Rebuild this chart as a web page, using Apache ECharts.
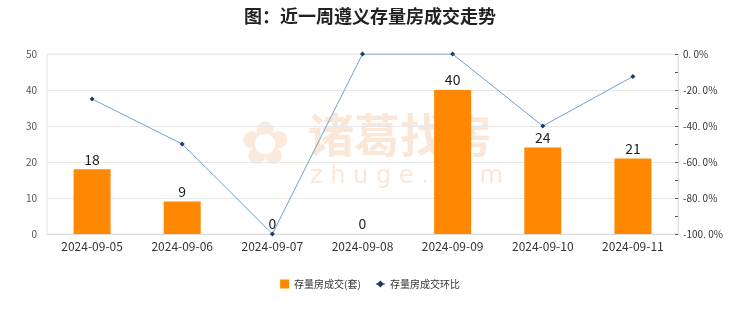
<!DOCTYPE html>
<html><head><meta charset="utf-8">
<script src="https://cdn.jsdelivr.net/npm/echarts@6/dist/echarts.min.js"></script>
<style>html,body{margin:0;padding:0;background:#fff}#c{width:740px;height:312px}</style>
</head><body><div id="c"></div>
<script>
const categories = ['2024-09-05','2024-09-06','2024-09-07','2024-09-08','2024-09-09','2024-09-10','2024-09-11'];
const volume = [18, 9, 0, 0, 40, 24, 21];
const ratio = [-25, -50, -100, 0, 0, -40, -12.5];
const leftTicks = {min: 0, max: 50, interval: 10};
const rightTicks = {min: -100, max: 0, interval: 20};

const chart = echarts.init(document.getElementById('c'));
const font = '"Noto Sans CJK SC", "Noto Sans", sans-serif';
chart.setOption({
  animation: false,
  backgroundColor: '#ffffff',
  textStyle: {fontFamily: font},
  title: {text: '图：近一周遵义存量房成交走势', left: 'center', top: 2,
    textStyle: {fontSize: 18, fontWeight: 'bold', color: '#222', fontFamily: font}},
  graphic: [
    {type: 'text', left: 308, top: 112, z: 0, style: {text: '诸葛找房', font: 'bold 46px "Noto Sans CJK SC"', fill: 'rgba(240,170,110,0.28)'}},
    {type: 'text', left: 310, top: 165, z: 0, style: {text: 'z h u g e . c o m', font: '24px "DejaVu Sans"', fill: 'rgba(240,170,110,0.28)'}},
    {type: 'text', left: 240, top: 118, z: 0, style: {text: '✿', font: '60px "DejaVu Sans"', fill: 'rgba(240,170,110,0.25)'}}
  ],
  legend: {bottom: 18, left: 'center', itemWidth: 9, itemHeight: 9, itemGap: 14,
    textStyle: {fontSize: 10, color: '#333'},
    data: [{name: '存量房成交(套)', icon: 'rect'}, {name: '存量房成交环比'}]},
  grid: {left: 47, right: 62, top: 54, bottom: 78, show: true, borderColor: '#e6e6e6', borderWidth: 1},
  xAxis: {type: 'category', data: categories,
    axisLine: {lineStyle: {color: '#dcdcdc'}}, axisTick: {show: false},
    axisLabel: {color: '#333', fontSize: 12, margin: 6}},
  yAxis: [
    {type: 'value', min: leftTicks.min, max: leftTicks.max, interval: leftTicks.interval,
      axisLine: {show: false}, axisTick: {show: false},
      axisLabel: {color: '#555', fontSize: 10, margin: 10},
      splitLine: {lineStyle: {color: '#e8e8e8'}}},
    {type: 'value', min: rightTicks.min, max: rightTicks.max, interval: rightTicks.interval, position: 'right',
      axisLine: {show: true, lineStyle: {color: '#e0e0e0'}},
      axisTick: {show: true, inside: true, length: 3, lineStyle: {color: '#555'}},
      minorTick: {show: true, splitNumber: 2, length: 3, lineStyle: {color: '#555'}},
      axisLabel: {color: '#333', fontSize: 10, margin: 5, formatter: v => v.toFixed(1).replace('.', '. ') + '%'},
      splitLine: {show: false}}
  ],
  series: [
    {name: '存量房成交(套)', type: 'bar', data: volume, barWidth: 37, yAxisIndex: 0,
      itemStyle: {color: '#FF8800'}, z: 2,
      label: {show: true, position: 'top', color: '#222', fontSize: 14, distance: 3}},
    {name: '存量房成交环比', type: 'line', data: ratio, yAxisIndex: 1, z: 3,
      symbol: 'diamond', symbolSize: 5,
      lineStyle: {color: '#6f9fd6', width: 1},
      itemStyle: {color: '#1f3b66'}}
  ]
});
</script></body></html>
